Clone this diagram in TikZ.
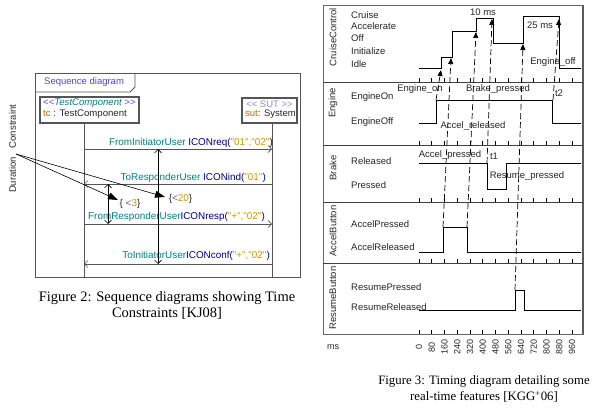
\documentclass[tikz,border=0pt]{standalone}
\usepackage{fontspec}
\setmainfont{Liberation Serif}
\newfontfamily\dg{Liberation Sans}
\usetikzlibrary{arrows.meta}
\definecolor{cteal}{RGB}{0,128,128}
\definecolor{cnavy}{RGB}{0,0,128}
\definecolor{cgold}{RGB}{205,150,0}
\definecolor{cpurp}{RGB}{120,60,230}
\definecolor{cseq}{RGB}{80,70,210}
\definecolor{corange}{RGB}{200,100,0}
\definecolor{csut}{RGB}{140,140,200}
\definecolor{cline}{RGB}{85,85,85}
\newcommand{\mTl}[1]{\textcolor{cteal}{#1}}
\newcommand{\mNv}[1]{\textcolor{cnavy}{#1}}
\newcommand{\mGd}[1]{\textcolor{cgold}{#1}}
\newcommand{\mPu}[1]{\textcolor{cpurp}{#1}}
\begin{document}
\begin{tikzpicture}[x=1pt,y=-1pt,
  txt/.style={font=\dg\fontsize{9.5}{11}\selectfont, inner sep=0pt, text=black!85},
  mtxt/.style={font=\dg\fontsize{9.9}{11}\selectfont, inner sep=0pt, text=black!85},
  btxt/.style={font=\dg\fontsize{9.6}{11}\selectfont, inner sep=0pt, text=black!85},
  tlbl/.style={font=\dg\fontsize{9}{10}\selectfont, inner sep=0pt, text=black!85},
  capt/.style={font=\fontsize{14.5}{16}\selectfont, inner sep=0pt, align=center},
  captb/.style={font=\fontsize{12.8}{16}\selectfont, inner sep=0pt, align=center},
  seqframe/.style={draw=cline, line width=0.8pt},
  lifebox/.style={draw=cline, line width=1.1pt},
  lifeline/.style={draw=cline, line width=0.8pt},
  msg/.style={draw=cline, line width=0.6pt, -{Straight Barb[length=3.5pt,width=7pt]}},
  dur/.style={draw=black, line width=0.6pt, {Straight Barb[length=3.5pt,width=7pt]}-{Straight Barb[length=3.5pt,width=7pt]}},
  notearrow/.style={draw=black, line width=0.6pt, -{Triangle[length=10pt,width=7pt]}},
  tframe/.style={draw=black!60, line width=0.6pt},
  sepline/.style={draw=black!75, line width=0.7pt},
  sig/.style={draw=black, line width=0.7pt},
  evt/.style={draw=black, line width=0.7pt, dash pattern=on 6pt off 3pt, -{Triangle[length=6pt,width=5pt]}},
  tmark/.style={draw=black, line width=0.6pt},
]
\useasboundingbox (0,0) rectangle (600,409);

%% ================= Sequence diagram =================
\draw[seqframe] (35,73) rectangle (300,277);
\draw[seqframe] (35,92) -- (130,92) -- (135,87) -- (135,73);
\node[txt, anchor=west, text=cseq] (title) at (44,82.5) {Sequence diagram};

\draw[lifebox] (40,97) rectangle (139,123);
\node[btxt, anchor=west] (tcS) at (43,103.5) {\mPu{<<}\mTl{\itshape TestComponent}\mPu{\ >>}};
\node[btxt, anchor=west] (tcN) at (43,114) {\textcolor{corange}{tc} : TestComponent};
\draw[lifebox] (242,98) rectangle (297,123);
\node[txt, text=csut] (sutS) at (269.5,104.5) {<< SUT >>};
\node[txt, anchor=west] (sutN) at (245,114) {\textcolor{corange}{sut}: System};

\coordinate (tcT) at (84,123);  \coordinate (tcB) at (84,277);
\coordinate (suT) at (272,123); \coordinate (suB) at (272,277);
\draw[lifeline] (tcT) -- (tcB);
\draw[lifeline] (suT) -- (suB);

\coordinate (m1a) at (84,149);  \coordinate (m1b) at (272,149);
\coordinate (m2a) at (272,184); \coordinate (m2b) at (84,184);
\coordinate (m3a) at (84,224);  \coordinate (m3b) at (272,224);
\coordinate (m4a) at (272,264); \coordinate (m4b) at (84,264);
\draw[msg] (m1a) -- (m1b);
\draw[msg] (m2a) -- (m2b);
\draw[msg] (m3a) -- (m3b);
\draw[msg] (m4a) -- (m4b);
\node[mtxt, anchor=east] (m1l) at (273,143) {\mTl{FromInitiatorUser}\ \mNv{ICONreq(}\mGd{"01","02"}\mNv{)}};
\node[mtxt, anchor=east] (m2l) at (266,177.5) {\mTl{ToResponderUser} \mNv{ICONind(}\mGd{"01"}\mNv{)}};
\node[mtxt, anchor=east] (m3l) at (265,216.5) {\mTl{FromResponderUser}\mNv{ICONresp(}\mGd{"+","02"}\mNv{)}};
\node[mtxt, anchor=east] (m4l) at (270,255.5) {\mTl{ToInitiatorUser}\mNv{ICONconf(}\mGd{"+","02"}\mNv{)}};

\coordinate (d20a) at (158,149); \coordinate (d20b) at (158,264);
\coordinate (d3a) at (108,184);  \coordinate (d3b) at (108,224);
\draw[dur] (d20a) -- (d20b);
\draw[dur] (d3a) -- (d3b);
\node[mtxt] (c20) at (180.5,199) {\{\mPu{<}\mGd{20}\}};
\node[mtxt] (c3) at (130,204) {\{ \mPu{<}\mGd{3}\}};

\node[txt, rotate=90] (dcC) at (12.5,126.5) {Constraint};
\node[txt, rotate=90] (dcD) at (12.5,175) {Duration};
\coordinate (dcP) at (16,154);
\coordinate (t3) at (118,200);
\coordinate (t20) at (165,197);
\draw[notearrow] (dcP) -- (t3);
\draw[notearrow] (dcP) -- (t20);

\node[capt] (cap2) at (167,305) {Figure 2: Sequence diagrams showing Time\\Constraints [KJ08]};

%% ================= Timing diagram =================
\draw[tframe] (323,5) rectangle (583,334);
\draw[draw=black!65, line width=1.3pt] (583,5) -- (583,334);
\foreach \yy in {82,145,202,263} { \draw[sepline] (323,\yy) -- (583,\yy); }

\node[txt, rotate=90] (pCC) at (333,37) {CruiseControl};
\node[txt, rotate=90] (pEN) at (333,103) {Engine};
\node[txt, rotate=90] (pBR) at (333,168) {Brake};
\node[txt, rotate=90] (pAB) at (333,231) {AccelButton};
\node[txt, rotate=90] (pRB) at (333,298) {ResumeButton};

\node[txt, anchor=west] (sCr) at (351,15) {Cruise};
\node[txt, anchor=west] (sAc) at (351,26.5) {Accelerate};
\node[txt, anchor=west] (sOf) at (351,38.5) {Off};
\node[txt, anchor=west] (sIn) at (351,51.5) {Initialize};
\node[txt, anchor=west] (sId) at (351,64) {Idle};
\node[txt, anchor=west] (sEo) at (351,97.5) {EngineOn};
\node[txt, anchor=west] (sEf) at (351,122) {EngineOff};
\node[txt, anchor=west] (sRe) at (351,161) {Released};
\node[txt, anchor=west] (sPr) at (351,185) {Pressed};
\node[txt, anchor=west] (sAp) at (351,224) {AccelPressed};
\node[txt, anchor=west] (sAr) at (351,247.5) {AccelReleased};
\node[txt, anchor=west] (sRp) at (351,287) {ResumePressed};
\node[txt, anchor=west] (sRr) at (351,307) {ResumeReleased};

% signals
\draw[sig] (419,68) -- (441,68) -- (441,57) -- (452,57) -- (452,31) -- (476,31) -- (476,18) -- (493,18) -- (493,43) -- (523,43) -- (523,16) -- (559,16) -- (559,68) -- (581,68);
\draw[sig] (419,123) -- (436,123) -- (436,100) -- (552,100) -- (552,123) -- (581,123);
\draw[sig] (419,163) -- (487,163) -- (487,189) -- (506,189) -- (506,163) -- (581,163);
\draw[sig] (419,252) -- (443,252) -- (443,227) -- (467,227) -- (467,252) -- (581,252);
\draw[sig] (419,310) -- (515,310) -- (515,290) -- (524,290) -- (524,310) -- (581,310);

% ticks
\foreach \bb in {82,145,202,263,334} {
  \foreach \k in {0,...,12} { \draw[tmark] ({419+12.75*\k},\bb) -- ++(0,-4); }
}
\node[tlbl, anchor=west] (ms) at (327,347) {ms};
\foreach \k in {0,...,12} {
  \pgfmathtruncatemacro{\vv}{80*\k}
  \node[tlbl, rotate=90] (tl\k) at ({419+12.75*\k},347) {\vv};
}

% event arrows
\coordinate (eA0) at (436,100); \coordinate (eA1) at (441,70);
\coordinate (eB0) at (443,227); \coordinate (eB1) at (451,58);
\coordinate (eC0) at (467,227); \coordinate (eC1) at (476,32);
\coordinate (eD0) at (487,163); \coordinate (eD1) at (492,19);
\coordinate (eE0) at (515,290); \coordinate (eE1) at (523,44);
\coordinate (eF0) at (553,100); \coordinate (eF1) at (559,19);
\draw[evt] (eA0) -- (eA1);
\draw[evt] (eB0) -- (eB1);
\draw[evt] (eC0) -- (eC1);
\draw[evt] (eD0) -- (eD1);
\draw[evt] (eE0) -- (eE1);
\draw[evt] (eF0) -- (eF1);

% event labels
\node[txt] (l10) at (483,12) {10 ms};
\node[txt] (l25) at (540,25) {25 ms};
\node[txt] (lEoff) at (553,62) {Engine\_off};
\node[txt] (lEon) at (420,89.5) {Engine\_on};
\node[txt] (lBp) at (498,89.5) {Brake\_pressed};
\node[txt] (lAr) at (473,126) {Accel\_released};
\node[txt] (lt2) at (559,93) {t2};
\node[txt] (lAp) at (450,155.5) {Accel\_pressed};
\node[txt] (lt1) at (494,156) {t1};
\node[txt] (lRp) at (527,176.5) {Resume\_pressed};

\node[captb] (cap3) at (484,389) {Figure 3: Timing diagram detailing some\\real-time features [KGG\textsuperscript{+}06]};
\end{tikzpicture}
\end{document}
